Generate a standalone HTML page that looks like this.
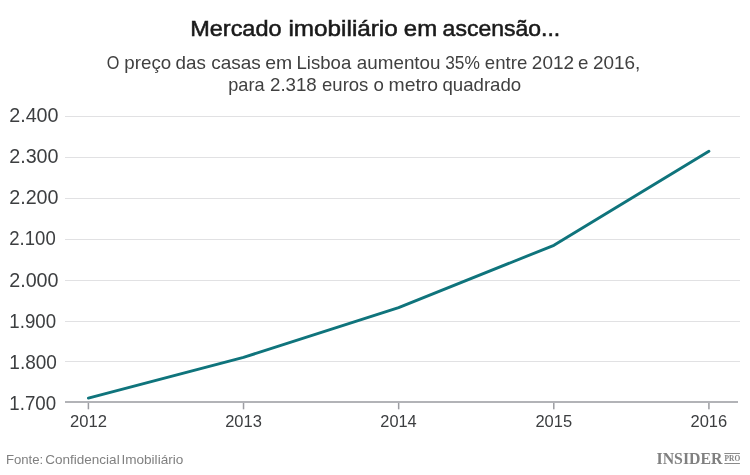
<!DOCTYPE html>
<html><head><meta charset="utf-8">
<style>
html,body{margin:0;padding:0;background:#fff;width:750px;height:475px;overflow:hidden;}
svg{display:block;will-change:transform;}
</style></head>
<body>
<svg width="750" height="475" viewBox="0 0 750 475">
<rect width="750" height="475" fill="#fff"/>
<rect x="65" y="116" width="675" height="1" fill="#e1e1e3"/>
<rect x="65" y="157" width="675" height="1" fill="#e1e1e3"/>
<rect x="65" y="198" width="675" height="1" fill="#e1e1e3"/>
<rect x="65" y="239" width="675" height="1" fill="#e1e1e3"/>
<rect x="65" y="280" width="675" height="1" fill="#e1e1e3"/>
<rect x="65" y="321" width="675" height="1" fill="#e1e1e3"/>
<rect x="65" y="361" width="675" height="1" fill="#e1e1e3"/>
<rect x="65" y="401" width="673" height="2" fill="#b2b3b7"/>
<rect x="87.65" y="403" width="1.5" height="6.3" fill="#9c9da2"/>
<rect x="242.78" y="403" width="1.5" height="6.3" fill="#9c9da2"/>
<rect x="397.91" y="403" width="1.5" height="6.3" fill="#9c9da2"/>
<rect x="553.04" y="403" width="1.5" height="6.3" fill="#9c9da2"/>
<rect x="708.17" y="403" width="1.5" height="6.3" fill="#9c9da2"/>
<polyline points="88.4,398.1 243.5,357.4 398.6,307.65 553.9,245.3 708.9,151.3" fill="none" stroke="#0f747c" stroke-width="2.9" stroke-linejoin="round" stroke-linecap="round"/>
<text x="190.26" y="36.40" font-family="'Liberation Sans', sans-serif" font-size="22.8" font-weight="normal" fill="#1a1a1a" stroke="#1a1a1a" stroke-width="0.55" textLength="91.27" lengthAdjust="spacingAndGlyphs">Mercado</text>
<text x="288.47" y="36.40" font-family="'Liberation Sans', sans-serif" font-size="22.8" font-weight="normal" fill="#1a1a1a" stroke="#1a1a1a" stroke-width="0.55" textLength="109.30" lengthAdjust="spacingAndGlyphs">imobiliário</text>
<text x="403.81" y="36.40" font-family="'Liberation Sans', sans-serif" font-size="22.8" font-weight="normal" fill="#1a1a1a" stroke="#1a1a1a" stroke-width="0.55" textLength="33.32" lengthAdjust="spacingAndGlyphs">em</text>
<text x="442.64" y="36.40" font-family="'Liberation Sans', sans-serif" font-size="22.8" font-weight="normal" fill="#1a1a1a" stroke="#1a1a1a" stroke-width="0.55" textLength="117.62" lengthAdjust="spacingAndGlyphs">ascensão...</text>
<text x="106.63" y="68.60" font-family="'Liberation Sans', sans-serif" font-size="18.6" font-weight="normal" fill="#404040" textLength="12.62" lengthAdjust="spacingAndGlyphs">O</text>
<text x="124.34" y="68.60" font-family="'Liberation Sans', sans-serif" font-size="18.6" font-weight="normal" fill="#404040" textLength="46.83" lengthAdjust="spacingAndGlyphs">preço</text>
<text x="175.64" y="68.60" font-family="'Liberation Sans', sans-serif" font-size="18.6" font-weight="normal" fill="#404040" textLength="30.30" lengthAdjust="spacingAndGlyphs">das</text>
<text x="211.23" y="68.60" font-family="'Liberation Sans', sans-serif" font-size="18.6" font-weight="normal" fill="#404040" textLength="49.61" lengthAdjust="spacingAndGlyphs">casas</text>
<text x="265.22" y="68.60" font-family="'Liberation Sans', sans-serif" font-size="18.6" font-weight="normal" fill="#404040" textLength="26.99" lengthAdjust="spacingAndGlyphs">em</text>
<text x="296.50" y="68.60" font-family="'Liberation Sans', sans-serif" font-size="18.6" font-weight="normal" fill="#404040" textLength="54.75" lengthAdjust="spacingAndGlyphs">Lisboa</text>
<text x="356.84" y="68.60" font-family="'Liberation Sans', sans-serif" font-size="18.6" font-weight="normal" fill="#404040" textLength="83.68" lengthAdjust="spacingAndGlyphs">aumentou</text>
<text x="445.20" y="68.60" font-family="'Liberation Sans', sans-serif" font-size="18.6" font-weight="normal" fill="#404040" textLength="34.67" lengthAdjust="spacingAndGlyphs">35%</text>
<text x="484.85" y="68.60" font-family="'Liberation Sans', sans-serif" font-size="18.6" font-weight="normal" fill="#404040" textLength="42.44" lengthAdjust="spacingAndGlyphs">entre</text>
<text x="531.88" y="68.60" font-family="'Liberation Sans', sans-serif" font-size="18.6" font-weight="normal" fill="#404040" textLength="42.21" lengthAdjust="spacingAndGlyphs">2012</text>
<text x="578.05" y="68.60" font-family="'Liberation Sans', sans-serif" font-size="18.6" font-weight="normal" fill="#404040" textLength="10.40" lengthAdjust="spacingAndGlyphs">e</text>
<text x="592.98" y="68.60" font-family="'Liberation Sans', sans-serif" font-size="18.6" font-weight="normal" fill="#404040" textLength="47.33" lengthAdjust="spacingAndGlyphs">2016,</text>
<text x="228.28" y="90.90" font-family="'Liberation Sans', sans-serif" font-size="18.6" font-weight="normal" fill="#404040" textLength="36.29" lengthAdjust="spacingAndGlyphs">para</text>
<text x="269.99" y="90.90" font-family="'Liberation Sans', sans-serif" font-size="18.6" font-weight="normal" fill="#404040" textLength="46.79" lengthAdjust="spacingAndGlyphs">2.318</text>
<text x="322.05" y="90.90" font-family="'Liberation Sans', sans-serif" font-size="18.6" font-weight="normal" fill="#404040" textLength="46.31" lengthAdjust="spacingAndGlyphs">euros</text>
<text x="373.45" y="90.90" font-family="'Liberation Sans', sans-serif" font-size="18.6" font-weight="normal" fill="#404040" textLength="10.40" lengthAdjust="spacingAndGlyphs">o</text>
<text x="388.50" y="90.90" font-family="'Liberation Sans', sans-serif" font-size="18.6" font-weight="normal" fill="#404040" textLength="49.52" lengthAdjust="spacingAndGlyphs">metro</text>
<text x="442.45" y="90.90" font-family="'Liberation Sans', sans-serif" font-size="18.6" font-weight="normal" fill="#404040" textLength="78.80" lengthAdjust="spacingAndGlyphs">quadrado</text>
<text x="9.22" y="122.00" font-family="'Liberation Sans', sans-serif" font-size="20.2" font-weight="normal" fill="#3c3e40" textLength="49.34" lengthAdjust="spacingAndGlyphs">2.400</text>
<text x="9.22" y="163.20" font-family="'Liberation Sans', sans-serif" font-size="20.2" font-weight="normal" fill="#3c3e40" textLength="49.34" lengthAdjust="spacingAndGlyphs">2.300</text>
<text x="9.22" y="204.20" font-family="'Liberation Sans', sans-serif" font-size="20.2" font-weight="normal" fill="#3c3e40" textLength="49.34" lengthAdjust="spacingAndGlyphs">2.200</text>
<text x="9.28" y="245.20" font-family="'Liberation Sans', sans-serif" font-size="20.2" font-weight="normal" fill="#3c3e40" textLength="46.44" lengthAdjust="spacingAndGlyphs">2.100</text>
<text x="9.22" y="286.80" font-family="'Liberation Sans', sans-serif" font-size="20.2" font-weight="normal" fill="#3c3e40" textLength="49.34" lengthAdjust="spacingAndGlyphs">2.000</text>
<text x="9.37" y="328.00" font-family="'Liberation Sans', sans-serif" font-size="20.2" font-weight="normal" fill="#3c3e40" textLength="46.75" lengthAdjust="spacingAndGlyphs">1.900</text>
<text x="9.35" y="369.00" font-family="'Liberation Sans', sans-serif" font-size="20.2" font-weight="normal" fill="#3c3e40" textLength="47.59" lengthAdjust="spacingAndGlyphs">1.800</text>
<text x="9.37" y="410.00" font-family="'Liberation Sans', sans-serif" font-size="20.2" font-weight="normal" fill="#3c3e40" textLength="46.75" lengthAdjust="spacingAndGlyphs">1.700</text>
<text x="70.00" y="427.20" font-family="'Liberation Sans', sans-serif" font-size="16.6" font-weight="normal" fill="#3c3e40" textLength="36.97" lengthAdjust="spacingAndGlyphs">2012</text>
<text x="225.13" y="427.20" font-family="'Liberation Sans', sans-serif" font-size="16.6" font-weight="normal" fill="#3c3e40" textLength="36.71" lengthAdjust="spacingAndGlyphs">2013</text>
<text x="380.27" y="427.20" font-family="'Liberation Sans', sans-serif" font-size="16.6" font-weight="normal" fill="#3c3e40" textLength="36.46" lengthAdjust="spacingAndGlyphs">2014</text>
<text x="535.39" y="427.20" font-family="'Liberation Sans', sans-serif" font-size="16.6" font-weight="normal" fill="#3c3e40" textLength="36.71" lengthAdjust="spacingAndGlyphs">2015</text>
<text x="690.52" y="427.20" font-family="'Liberation Sans', sans-serif" font-size="16.6" font-weight="normal" fill="#3c3e40" textLength="36.71" lengthAdjust="spacingAndGlyphs">2016</text>
<text x="5.91" y="464.00" font-family="'Liberation Sans', sans-serif" font-size="13.3" font-weight="normal" fill="#808080" textLength="37.28" lengthAdjust="spacingAndGlyphs">Fonte:</text>
<text x="45.24" y="464.00" font-family="'Liberation Sans', sans-serif" font-size="13.3" font-weight="normal" fill="#808080" textLength="74.42" lengthAdjust="spacingAndGlyphs">Confidencial</text>
<text x="121.42" y="464.00" font-family="'Liberation Sans', sans-serif" font-size="13.3" font-weight="normal" fill="#808080" textLength="61.90" lengthAdjust="spacingAndGlyphs">Imobiliário</text>
<text x="656.52" y="464.00" font-family="'Liberation Serif', serif" font-size="16.5" font-weight="bold" fill="#808080" textLength="65.97" lengthAdjust="spacingAndGlyphs">INSIDER</text>
<text x="724.54" y="461.40" font-family="'Liberation Serif', serif" font-size="7.2" font-weight="bold" fill="#808080" textLength="15.59" lengthAdjust="spacingAndGlyphs">PRO</text>
<rect x="724.3" y="453" width="15.6" height="1" fill="#8a8a8a"/>
<rect x="724.3" y="463" width="15.6" height="1" fill="#8a8a8a"/>
</svg>
</body></html>
